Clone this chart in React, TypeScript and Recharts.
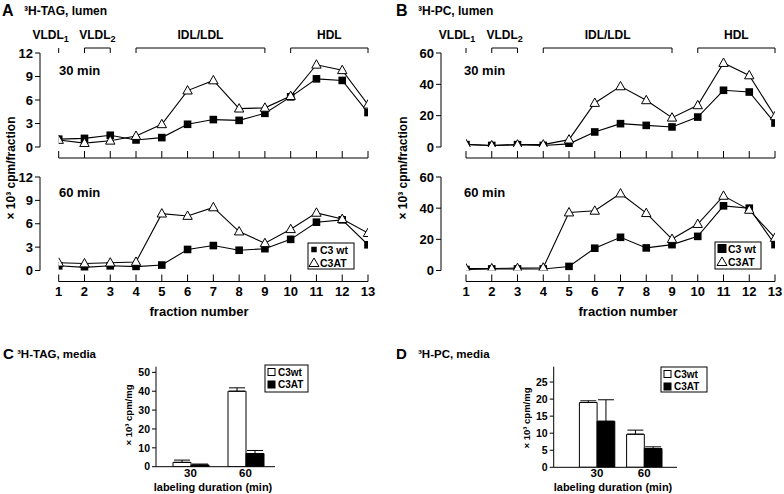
import React from 'react';
import { LineChart, Line, XAxis, YAxis, ReferenceLine, BarChart, Bar, ErrorBar } from 'recharts';

const FONT = '"Liberation Sans", Arial, Helvetica, sans-serif';

// ---------- data ----------
const fractions = [1, 2, 3, 4, 5, 6, 7, 8, 9, 10, 11, 12, 13];

const tagLumen30Wt = [1.0, 1.1, 1.5, 0.9, 1.2, 2.9, 3.5, 3.4, 4.3, 6.4, 8.7, 8.5, 4.4];
const tagLumen30At = [0.9, 0.5, 0.8, 1.4, 2.9, 7.2, 8.5, 4.9, 5.0, 6.5, 10.5, 9.8, 5.4];
const tagLumen60Wt = [0.6, 0.4, 0.6, 0.5, 0.7, 2.7, 3.2, 2.6, 2.8, 4.0, 6.2, 6.5, 3.3];
const tagLumen60At = [1.0, 0.9, 1.0, 1.1, 7.3, 7.0, 8.1, 5.0, 3.5, 5.3, 7.4, 6.6, 4.8];

const pcLumen30Wt = [1.5, 1.0, 1.5, 1.0, 2.0, 9.6, 14.9, 13.8, 12.8, 19.1, 36.2, 35.1, 15.3];
const pcLumen30At = [1.8, 1.0, 1.5, 1.5, 4.7, 28.1, 38.7, 29.8, 18.7, 26.6, 53.6, 45.7, 19.6];
const pcLumen60Wt = [0.6, 1.0, 1.0, 1.0, 2.6, 14.3, 21.3, 14.5, 16.6, 21.9, 41.5, 40.0, 16.6];
const pcLumen60At = [1.2, 1.3, 1.5, 1.8, 37.2, 38.3, 49.4, 36.8, 20.2, 29.8, 47.9, 38.9, 20.9];

const tagTicks = [0, 3, 6, 9, 12];
const pcTicks = [0, 20, 40, 60];

const bracketLabels = ['VLDL', 'VLDL', 'IDL/LDL', 'HDL'];
const bracketSubs = ['1', '2', '', ''];
const bracketStart = [1, 2, 4, 10];
const bracketEnd = [1, 3, 9, 13];

const durations = ['30', '60'];
const tagMediaWt = [2.3, 40.0];
const tagMediaWtErr = [1.2, 1.8];
const tagMediaAt = [0.9, 7.0];
const tagMediaAtErr = [0.5, 1.6];
const pcMediaWt = [19.0, 9.7];
const pcMediaWtErr = [0.5, 1.2];
const pcMediaAt = [13.5, 5.5];
const pcMediaAtErr = [6.3, 0.5];

const tagMediaTicks = [0, 10, 20, 30, 40, 50];
const pcMediaTicks = [0, 5, 10, 15, 20, 25];

// ---------- helpers ----------
const lineData = (wt: number[], at: number[]) => fractions.map((f, i) => ({ f, wt: wt[i], at: at[i] }));
const barData = (wt: number[], wtE: number[], at: number[], atE: number[]) =>
  durations.map((d, i) => ({ d, wt: wt[i], at: at[i], wtErr: [0, wtE[i]], atErr: [0, atE[i]] }));

const SquareDot = (p: any) => {
  const { cx, cy, index } = p;
  if (cx == null || cy == null) return <g key={`s${index}`} />;
  return <rect key={`s${index}`} x={cx - 3.8} y={cy - 3.8} width={7.6} height={7.6} fill="#000" />;
};
const TriDot = (p: any) => {
  const { cx, cy, index } = p;
  if (cx == null || cy == null) return <g key={`t${index}`} />;
  return (
    <path
      key={`t${index}`}
      d={`M${cx} ${cy - 5} L${cx + 4.7} ${cy + 3.4} L${cx - 4.7} ${cy + 3.4} Z`}
      fill="#fff"
      stroke="#000"
      strokeWidth={1}
    />
  );
};

const tickStyle = { fill: '#000', fontSize: 13, fontWeight: 700, fontFamily: FONT };

type LinePanelProps = {
  left: number;
  yW: number;
  padL: number;
  mRight: number;
  plotTop: number;
  plotBottom: number;
  max: number;
  ticks: number[];
  wt: number[];
  at: number[];
  labels: boolean;
  brackets: boolean;
  v1dx: number;
};

const LinePanel = (props: LinePanelProps) => {
  const { left, yW, padL, mRight, plotTop, plotBottom, max, ticks, wt, at, labels, brackets, v1dx } = props;
  const data = lineData(wt, at);
  const renderTick = (p: any) => {
    const { x, y, payload } = p;
    return (
      <g>
        <line x1={x} x2={x} y1={y + 4} y2={y + 11} stroke="#000" strokeWidth={1} />
        {labels && (
          <text x={x} y={y + 25} textAnchor="middle" fontFamily={FONT} fontWeight={700} fontSize={13} fill="#000">
            {payload.value}
          </text>
        )}
      </g>
    );
  };
  return (
    <div style={{ position: 'absolute', left, top: 0 }}>
      <LineChart
        width={392}
        height={494}
        data={data}
        margin={{ top: plotTop, right: mRight, bottom: 494 - plotBottom - 30, left: 0 }}
      >
        <XAxis
          type="number"
          dataKey="f"
          domain={[1, 13]}
          ticks={fractions}
          interval={0}
          padding={{ left: padL, right: 0 }}
          axisLine={false}
          tickLine={false}
          tickSize={0}
          tickMargin={0}
          height={30}
          tick={renderTick}
          allowDataOverflow
        />
        <YAxis
          width={yW}
          domain={[0, max]}
          ticks={ticks}
          interval={0}
          tickSize={5}
          tickMargin={2}
          axisLine={{ stroke: '#000' }}
          tickLine={{ stroke: '#000' }}
          tick={tickStyle}
          allowDataOverflow
        />
        <ReferenceLine
          segment={[{ x: 1, y: 0 }, { x: 13, y: 0 }]}
          ifOverflow="visible"
          shape={(p: any) => (
            <line x1={p.x1} y1={p.y1 + 11} x2={p.x2} y2={p.y2 + 11} stroke="#000" strokeWidth={1} />
          )}
        />
        {brackets &&
          bracketLabels.map((lab, i) => (
            <ReferenceLine
              key={`br${i}`}
              segment={[{ x: bracketStart[i], y: max }, { x: bracketEnd[i], y: max }]}
              ifOverflow="visible"
              shape={(p: any) => {
                const single = bracketStart[i] === bracketEnd[i];
                const d = single
                  ? `M${p.x1} ${p.y1} V${p.y1 - 5}`
                  : `M${p.x1} ${p.y1} V${p.y1 - 5} H${p.x2} V${p.y1}`;
                return (
                  <g>
                    <path d={d} fill="none" stroke="#000" strokeWidth={1} />
                    <text
                      x={(p.x1 + p.x2) / 2 + (single ? v1dx : 0)}
                      y={p.y1 - 14}
                      textAnchor="middle"
                      fontFamily={FONT}
                      fontWeight={700}
                      fontSize={12}
                      fill="#000"
                    >
                      {lab}
                      {bracketSubs[i] && (
                        <tspan fontSize={9} dy={3}>
                          {bracketSubs[i]}
                        </tspan>
                      )}
                    </text>
                  </g>
                );
              }}
            />
          ))}
        <Line
          type="linear"
          dataKey="wt"
          stroke="#000"
          strokeWidth={1.1}
          dot={SquareDot}
          activeDot={false}
          isAnimationActive={false}
        />
        <Line
          type="linear"
          dataKey="at"
          stroke="#000"
          strokeWidth={1.1}
          dot={TriDot}
          activeDot={false}
          isAnimationActive={false}
        />
      </LineChart>
    </div>
  );
};

type BarPanelProps = {
  left: number;
  yW: number;
  mRight: number;
  plotTop: number;
  plotBottom: number;
  max: number;
  ticks: number[];
  padL: number;
  padR: number;
  barSize: number;
  data: any[];
};

const barTick = { fill: '#000', fontSize: 10.5, fontWeight: 700, fontFamily: FONT };

const BarPanel = (props: BarPanelProps) => {
  const { left, yW, mRight, plotTop, plotBottom, max, ticks, padL, padR, barSize, data } = props;
  return (
    <div style={{ position: 'absolute', left, top: 0 }}>
      <BarChart
        width={392}
        height={494}
        data={data}
        barGap={0}
        margin={{ top: plotTop, right: mRight, bottom: 494 - plotBottom - 20, left: 0 }}
      >
        <XAxis
          dataKey="d"
          height={20}
          tickLine={false}
          tickSize={0}
          axisLine={{ stroke: '#000' }}
          padding={{ left: padL, right: padR }}
          tickMargin={2}
          tick={{ ...barTick, fontSize: 11.5 }}
        />
        <YAxis
          width={yW}
          domain={[0, max]}
          ticks={ticks}
          interval={0}
          tickSize={4}
          tickMargin={2}
          axisLine={{ stroke: '#000' }}
          tickLine={{ stroke: '#000' }}
          tick={barTick}
          allowDataOverflow
        />
        <Bar dataKey="wt" fill="#fff" stroke="#000" strokeWidth={1} barSize={barSize} isAnimationActive={false}>
          <ErrorBar dataKey="wtErr" width={8} stroke="#000" strokeWidth={1} direction="y" />
        </Bar>
        <Bar dataKey="at" fill="#000" stroke="#000" strokeWidth={1} barSize={barSize} isAnimationActive={false}>
          <ErrorBar dataKey="atErr" width={8} stroke="#000" strokeWidth={1} direction="y" />
        </Bar>
      </BarChart>
    </div>
  );
};

const T = (p: any) => <text fontFamily={FONT} fontWeight={700} fill="#000" {...p} />;

const LegendLine = ({ x, y, w, h, big }: { x: number; y: number; w: number; h: number; big: boolean }) => {
  const s = big ? 9 : 5.5;
  const cx = x + (big ? 7 : 6);
  return (
    <g>
      <rect x={x} y={y} width={w} height={h} fill="#fff" stroke="#000" strokeWidth={1} />
      <rect x={cx - s / 2} y={y + 6.5 - s / 2} width={s} height={s} fill="#000" />
      <T x={x + (big ? 13 : 12)} y={y + 10.5} fontSize={10.5}>C3 wt</T>
      <path
        d={`M${cx} ${y + 15} L${cx + 5} ${y + 23.5} L${cx - 5} ${y + 23.5} Z`}
        fill="#fff"
        stroke="#000"
        strokeWidth={1}
      />
      <T x={x + (big ? 13 : 12)} y={y + 24} fontSize={10.5}>C3AT</T>
    </g>
  );
};

const LegendBar = ({ x, y, w, h }: { x: number; y: number; w: number; h: number }) => (
  <g>
    <rect x={x} y={y} width={w} height={h} fill="#fff" stroke="#000" strokeWidth={1} />
    <rect x={x + 3} y={y + 3.5} width={7} height={7} fill="#fff" stroke="#000" strokeWidth={1} />
    <T x={x + 13} y={y + 10.5} fontSize={10}>C3wt</T>
    <rect x={x + 3} y={y + 16} width={7} height={7} fill="#000" stroke="#000" strokeWidth={1} />
    <T x={x + 13} y={y + 23} fontSize={10}>C3AT</T>
  </g>
);

export default function App() {
  const tagMedia = barData(tagMediaWt, tagMediaWtErr, tagMediaAt, tagMediaAtErr);
  const pcMedia = barData(pcMediaWt, pcMediaWtErr, pcMediaAt, pcMediaAtErr);
  return (
    <div
      style={{
        position: 'absolute',
        left: 0,
        top: 0,
        width: 784,
        height: 494,
        background: '#fff',
        overflow: 'hidden',
        fontFamily: FONT,
      }}
    >
      {/* Panel A */}
      <LinePanel left={0} yW={40} padL={18.7} mRight={24} plotTop={53} plotBottom={147} max={12} ticks={tagTicks}
        wt={tagLumen30Wt} at={tagLumen30At} labels={false} brackets={true} v1dx={-8} />
      <LinePanel left={0} yW={40} padL={18.7} mRight={24} plotTop={177} plotBottom={270.5} max={12} ticks={tagTicks}
        wt={tagLumen60Wt} at={tagLumen60At} labels={true} brackets={false} v1dx={0} />
      {/* Panel B */}
      <LinePanel left={392} yW={49} padL={25} mRight={9} plotTop={53} plotBottom={147} max={60} ticks={pcTicks}
        wt={pcLumen30Wt} at={pcLumen30At} labels={false} brackets={true} v1dx={-9} />
      <LinePanel left={392} yW={49} padL={25} mRight={9} plotTop={177} plotBottom={270.5} max={60} ticks={pcTicks}
        wt={pcLumen60Wt} at={pcLumen60At} labels={true} brackets={false} v1dx={0} />
      {/* Panel C */}
      <BarPanel left={0} yW={156} mRight={117} plotTop={366.7} plotBottom={466.7} max={53} ticks={tagMediaTicks}
        padL={7} padR={2} barSize={18} data={tagMedia} />
      {/* Panel D */}
      <BarPanel left={392} yW={161.7} mRight={107} plotTop={366.7} plotBottom={467.3} max={29.5} ticks={pcMediaTicks}
        padL={19.7} padR={9.2} barSize={17.7} data={pcMedia} />

      <svg width={784} height={494} style={{ position: 'absolute', left: 0, top: 0, pointerEvents: 'none' }}>
        <T x={2} y={16} fontSize={16}>A</T>
        <T x={24} y={15} fontSize={12}>³H-TAG, lumen</T>
        <T x={396} y={16} fontSize={16}>B</T>
        <T x={418} y={15} fontSize={12}>³H-PC, lumen</T>
        <T x={3} y={359} fontSize={15}>C</T>
        <T x={17} y={358} fontSize={11.5}>³H-TAG, media</T>
        <T x={396} y={359} fontSize={15}>D</T>
        <T x={418} y={358} fontSize={11.5}>³H-PC, media</T>

        <T x={59} y={75} fontSize={13}>30 min</T>
        <T x={59} y={197} fontSize={13}>60 min</T>
        <T x={464} y={75} fontSize={13}>30 min</T>
        <T x={464} y={197} fontSize={13}>60 min</T>

        <T x={0} y={0} fontSize={12} textAnchor="middle" transform="translate(15,168) rotate(-90)">× 10³ cpm/fraction</T>
        <T x={0} y={0} fontSize={12} textAnchor="middle" transform="translate(407,168) rotate(-90)">× 10³ cpm/fraction</T>
        <T x={199} y={316} fontSize={13} textAnchor="middle">fraction number</T>
        <T x={628} y={316} fontSize={13} textAnchor="middle">fraction number</T>

        <T x={0} y={0} fontSize={9.5} textAnchor="middle" transform="translate(132,415) rotate(-90)">× 10³ cpm/mg</T>
        <T x={0} y={0} fontSize={9.5} textAnchor="middle" transform="translate(530,418) rotate(-90)">× 10³ cpm/mg</T>
        <T x={213} y={491} fontSize={11} textAnchor="middle">labeling duration (min)</T>
        <T x={613} y={491} fontSize={11} textAnchor="middle">labeling duration (min)</T>

        <LegendLine x={308} y={243} w={46} h={26} big={false} />
        <LegendLine x={715} y={242} w={46} h={27} big={true} />
        <LegendBar x={265} y={365} w={43} h={27} />
        <LegendBar x={661} y={367} w={46} h={25} />
      </svg>
    </div>
  );
}
